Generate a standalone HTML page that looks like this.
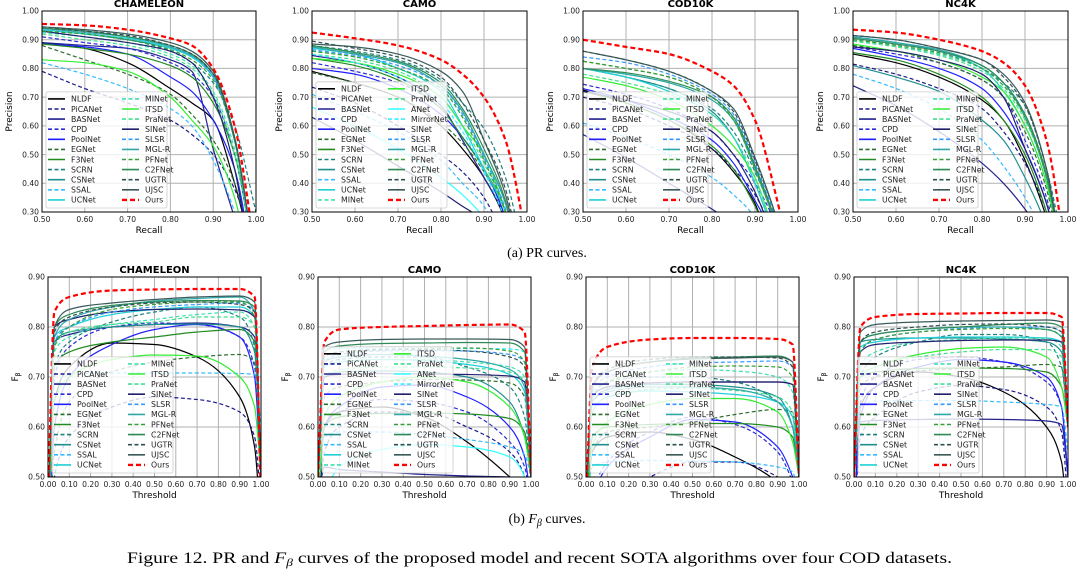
<!DOCTYPE html>
<html><head><meta charset="utf-8"><style>
html,body{margin:0;padding:0;background:#fff;}
svg{display:block;font-family:"DejaVu Sans","Liberation Sans",sans-serif;}
</style></head><body>
<svg id="fig" width="1081" height="573" viewBox="0 0 1081 573" xmlns="http://www.w3.org/2000/svg">
<rect width="1081" height="573" fill="#fff"/>
<g id="panels"></g>
<text x="547" y="257" text-anchor="middle" font-family="Liberation Serif, serif" font-size="14">(a) PR curves.</text>
<text x="547" y="523" text-anchor="middle" font-family="Liberation Serif, serif" font-size="14">(b) <tspan font-style="italic">F</tspan><tspan font-style="italic" font-size="10" dy="3">β</tspan><tspan dy="-3"> curves.</tspan></text>
<text x="127" y="563" font-family="Liberation Serif, serif" font-size="16" textLength="825" lengthAdjust="spacingAndGlyphs">Figure 12. PR and <tspan font-style="italic">F</tspan><tspan font-style="italic" font-size="11" dy="3">β</tspan><tspan dy="-3"> curves of the proposed model and recent SOTA algorithms over four COD datasets.</tspan></text>
</svg>
<script>
// ---- data ----
const recallGrid = [0.5,0.6,0.7,0.8,0.85,0.9,0.95,1.0];
const thrGrid = [0,0.03,0.1,0.3,0.5,0.7,0.9,0.97,1.0];
const prTicksX = ["0.50","0.60","0.70","0.80","0.90","1.00"];
const prTicksY = ["0.30","0.40","0.50","0.60","0.70","0.80","0.90","1.00"];
const fTicksX = ["0.00","0.10","0.20","0.30","0.40","0.50","0.60","0.70","0.80","0.90","1.00"];
const fTicksY = ["0.50","0.60","0.70","0.80","0.90"];
const datasets = ["CHAMELEON","CAMO","COD10K","NC4K"];
const methodsStd = ["NLDF","PiCANet","BASNet","CPD","PoolNet","EGNet","F3Net","SCRN","CSNet","SSAL","UCNet","MINet","ITSD","PraNet","SINet","SLSR","MGL-R","PFNet","C2FNet","UGTR","UJSC","Ours"];
const methodsCamo = ["NLDF","PiCANet","BASNet","CPD","PoolNet","EGNet","F3Net","SCRN","CSNet","SSAL","UCNet","MINet","ITSD","PraNet","ANet","MirrorNet","SINet","SLSR","MGL-R","PFNet","C2FNet","UGTR","UJSC","Ours"];

const prChameleon = {
NLDF:[0.89,0.87,0.82,0.73,0.68,0.62,0.40,0.10],PiCANet:[0.79,0.73,0.68,0.62,0.57,0.50,0.38,0.15],
BASNet:[0.89,0.88,0.87,0.83,0.79,0.52,0.28,0.05],CPD:[0.91,0.89,0.87,0.82,0.78,0.70,0.50,0.10],
PoolNet:[0.885,0.875,0.85,0.77,0.72,0.62,0.45,0.05],EGNet:[0.88,0.83,0.78,0.71,0.64,0.55,0.40,0.10],
F3Net:[0.885,0.87,0.85,0.81,0.77,0.68,0.50,0.15],SCRN:[0.93,0.92,0.90,0.86,0.82,0.75,0.60,0.30],
CSNet:[0.935,0.92,0.90,0.87,0.84,0.77,0.55,0.10],SSAL:[0.82,0.78,0.73,0.66,0.60,0.48,0.30,0.0],
UCNet:[0.935,0.92,0.905,0.87,0.84,0.77,0.55,0.10],MINet:[0.925,0.91,0.89,0.85,0.81,0.72,0.52,0.10],
ITSD:[0.83,0.82,0.79,0.70,0.62,0.53,0.35,0.0],PraNet:[0.92,0.90,0.88,0.84,0.80,0.71,0.50,0.10],
SINet:[0.93,0.91,0.89,0.86,0.82,0.70,0.45,0.0],SLSR:[0.94,0.93,0.91,0.875,0.845,0.77,0.55,0.10],
"MGL-R":[0.94,0.925,0.91,0.875,0.845,0.78,0.56,0.10],PFNet:[0.93,0.92,0.90,0.865,0.83,0.76,0.55,0.10],
C2FNet:[0.94,0.93,0.91,0.88,0.85,0.78,0.55,0.10],UGTR:[0.945,0.93,0.915,0.88,0.85,0.78,0.56,0.10],
UJSC:[0.945,0.935,0.92,0.89,0.86,0.79,0.56,0.10],Ours:[0.955,0.95,0.935,0.905,0.88,0.80,0.60,0.15]};
const prCamo = {
NLDF:[0.79,0.75,0.70,0.60,0.52,0.42,0.27,0.0],PiCANet:[0.735,0.68,0.60,0.50,0.44,0.35,0.20,0.0],
BASNet:[0.845,0.82,0.77,0.67,0.55,0.42,0.28,0.0],CPD:[0.82,0.79,0.75,0.66,0.56,0.45,0.28,0.0],
PoolNet:[0.80,0.78,0.73,0.64,0.56,0.45,0.28,0.0],EGNet:[0.785,0.75,0.70,0.61,0.54,0.44,0.30,0.0],
F3Net:[0.835,0.81,0.76,0.66,0.56,0.45,0.30,0.0],SCRN:[0.88,0.86,0.83,0.76,0.68,0.59,0.42,0.10],
CSNet:[0.875,0.85,0.82,0.74,0.65,0.50,0.33,0.0],SSAL:[0.71,0.65,0.58,0.48,0.40,0.32,0.15,0.0],
UCNet:[0.87,0.85,0.80,0.72,0.60,0.45,0.30,0.0],MINet:[0.86,0.84,0.80,0.73,0.63,0.48,0.30,0.0],
ITSD:[0.835,0.82,0.78,0.70,0.60,0.50,0.30,0.0],PraNet:[0.85,0.83,0.79,0.70,0.60,0.47,0.30,0.0],
ANet:[0.665,0.60,0.52,0.42,0.36,0.28,0.15,0.0],MirrorNet:[0.85,0.82,0.77,0.68,0.58,0.44,0.27,0.0],
SINet:[0.63,0.55,0.46,0.37,0.32,0.27,0.15,0.0],SLSR:[0.865,0.845,0.81,0.74,0.64,0.49,0.31,0.0],
"MGL-R":[0.875,0.85,0.82,0.74,0.65,0.50,0.33,0.0],PFNet:[0.86,0.84,0.80,0.73,0.63,0.48,0.30,0.0],
C2FNet:[0.88,0.855,0.825,0.75,0.66,0.52,0.34,0.0],UGTR:[0.895,0.87,0.84,0.77,0.68,0.55,0.38,0.0],
UJSC:[0.885,0.875,0.85,0.79,0.72,0.55,0.36,0.0],Ours:[0.925,0.905,0.88,0.83,0.78,0.70,0.55,0.20]};
const prCod = {
NLDF:[0.725,0.68,0.62,0.52,0.44,0.33,0.10,0.0],PiCANet:[0.70,0.66,0.60,0.52,0.45,0.36,0.20,0.0],
BASNet:[0.57,0.49,0.40,0.31,0.26,0.20,0.10,0.0],CPD:[0.745,0.71,0.66,0.58,0.50,0.40,0.25,0.0],
PoolNet:[0.73,0.69,0.63,0.55,0.47,0.34,0.20,0.0],EGNet:[0.825,0.80,0.77,0.70,0.62,0.45,0.25,0.0],
F3Net:[0.72,0.68,0.62,0.53,0.45,0.32,0.15,0.0],SCRN:[0.80,0.77,0.73,0.66,0.58,0.44,0.25,0.0],
CSNet:[0.80,0.77,0.73,0.65,0.56,0.40,0.20,0.0],SSAL:[0.61,0.56,0.50,0.42,0.36,0.28,0.10,0.0],
UCNet:[0.80,0.77,0.72,0.64,0.56,0.40,0.20,0.0],MINet:[0.80,0.78,0.75,0.69,0.62,0.45,0.25,0.0],
ITSD:[0.77,0.74,0.69,0.60,0.53,0.42,0.20,0.0],PraNet:[0.78,0.75,0.71,0.64,0.56,0.42,0.20,0.0],
SINet:[0.72,0.69,0.65,0.58,0.50,0.37,0.18,0.0],SLSR:[0.84,0.82,0.78,0.71,0.64,0.47,0.27,0.0],
"MGL-R":[0.80,0.78,0.75,0.69,0.62,0.45,0.25,0.0],PFNet:[0.825,0.80,0.77,0.70,0.62,0.45,0.25,0.0],
C2FNet:[0.80,0.785,0.755,0.70,0.63,0.46,0.26,0.0],UGTR:[0.86,0.83,0.79,0.72,0.65,0.48,0.28,0.0],
UJSC:[0.86,0.83,0.79,0.72,0.66,0.49,0.28,0.0],Ours:[0.90,0.875,0.85,0.79,0.74,0.62,0.35,0.0]};
const prNc4k = {
NLDF:[0.85,0.82,0.77,0.69,0.62,0.48,0.28,0.0],PiCANet:[0.815,0.78,0.73,0.66,0.58,0.47,0.30,0.0],
BASNet:[0.74,0.67,0.58,0.47,0.40,0.31,0.20,0.0],CPD:[0.875,0.85,0.82,0.76,0.70,0.55,0.35,0.0],
PoolNet:[0.87,0.84,0.80,0.73,0.65,0.52,0.33,0.0],EGNet:[0.88,0.86,0.82,0.76,0.70,0.58,0.38,0.0],
F3Net:[0.855,0.83,0.78,0.70,0.62,0.50,0.30,0.0],SCRN:[0.90,0.88,0.85,0.80,0.75,0.67,0.45,0.10],
CSNet:[0.81,0.77,0.72,0.62,0.55,0.42,0.25,0.0],SSAL:[0.78,0.73,0.66,0.55,0.46,0.35,0.20,0.0],
UCNet:[0.91,0.89,0.86,0.80,0.72,0.60,0.40,0.0],MINet:[0.90,0.88,0.85,0.80,0.74,0.63,0.42,0.0],
ITSD:[0.885,0.86,0.83,0.77,0.72,0.60,0.40,0.0],PraNet:[0.895,0.875,0.845,0.79,0.73,0.62,0.42,0.0],
SINet:[0.875,0.86,0.83,0.78,0.70,0.52,0.33,0.0],SLSR:[0.91,0.89,0.86,0.81,0.75,0.64,0.43,0.0],
"MGL-R":[0.91,0.89,0.865,0.81,0.75,0.63,0.42,0.0],PFNet:[0.90,0.88,0.855,0.80,0.74,0.63,0.42,0.0],
C2FNet:[0.905,0.885,0.86,0.81,0.75,0.64,0.43,0.0],UGTR:[0.915,0.90,0.87,0.83,0.77,0.67,0.45,0.0],
UJSC:[0.915,0.90,0.87,0.83,0.78,0.68,0.45,0.0],Ours:[0.935,0.925,0.90,0.86,0.82,0.74,0.55,0.10]};

const fChameleon = {
NLDF:[0.40,0.65,0.72,0.768,0.765,0.74,0.66,0.56,0.40],PiCANet:[0.30,0.50,0.58,0.64,0.66,0.655,0.63,0.58,0.45],
BASNet:[0.40,0.77,0.785,0.80,0.805,0.808,0.80,0.78,0.50],CPD:[0.35,0.70,0.76,0.80,0.808,0.805,0.78,0.72,0.50],
PoolNet:[0.30,0.60,0.70,0.765,0.795,0.805,0.78,0.70,0.50],EGNet:[0.30,0.55,0.65,0.71,0.73,0.74,0.745,0.73,0.50],
F3Net:[0.40,0.72,0.75,0.77,0.78,0.79,0.795,0.77,0.50],SCRN:[0.40,0.72,0.77,0.81,0.83,0.84,0.82,0.76,0.50],
CSNet:[0.40,0.77,0.79,0.80,0.805,0.806,0.80,0.75,0.50],SSAL:[0.40,0.68,0.705,0.708,0.708,0.708,0.707,0.705,0.60],
UCNet:[0.40,0.78,0.80,0.825,0.835,0.84,0.84,0.82,0.50],MINet:[0.40,0.75,0.78,0.805,0.815,0.825,0.83,0.80,0.50],
ITSD:[0.40,0.65,0.70,0.735,0.744,0.742,0.70,0.64,0.50],PraNet:[0.40,0.76,0.79,0.805,0.81,0.82,0.82,0.80,0.50],
SINet:[0.40,0.80,0.815,0.83,0.835,0.836,0.834,0.82,0.50],SLSR:[0.40,0.77,0.80,0.83,0.84,0.845,0.848,0.83,0.50],
"MGL-R":[0.40,0.78,0.815,0.84,0.852,0.857,0.86,0.83,0.50],PFNet:[0.40,0.76,0.80,0.835,0.845,0.85,0.85,0.82,0.50],
C2FNet:[0.40,0.80,0.825,0.843,0.85,0.853,0.852,0.84,0.50],UGTR:[0.40,0.79,0.82,0.84,0.848,0.85,0.845,0.83,0.50],
UJSC:[0.40,0.80,0.835,0.848,0.855,0.86,0.862,0.85,0.50],Ours:[0.45,0.83,0.86,0.873,0.875,0.876,0.876,0.86,0.45]};
const fCamo = {
NLDF:[0.40,0.60,0.63,0.64,0.62,0.57,0.50,0.47,0.40],PiCANet:[0.40,0.55,0.60,0.63,0.63,0.60,0.55,0.50,0.40],
BASNet:[0.45,0.52,0.515,0.51,0.505,0.502,0.50,0.49,0.45],CPD:[0.45,0.60,0.63,0.655,0.65,0.63,0.57,0.52,0.45],
PoolNet:[0.45,0.60,0.64,0.68,0.684,0.66,0.60,0.54,0.45],EGNet:[0.50,0.66,0.68,0.69,0.695,0.694,0.688,0.66,0.50],
F3Net:[0.45,0.60,0.62,0.627,0.628,0.626,0.617,0.59,0.50],SCRN:[0.50,0.72,0.735,0.74,0.74,0.72,0.68,0.62,0.50],
CSNet:[0.50,0.70,0.71,0.712,0.71,0.70,0.65,0.58,0.50],SSAL:[0.45,0.58,0.59,0.59,0.585,0.575,0.56,0.545,0.50],
UCNet:[0.50,0.72,0.73,0.735,0.733,0.725,0.705,0.67,0.50],MINet:[0.50,0.72,0.73,0.735,0.735,0.73,0.72,0.70,0.50],
ITSD:[0.45,0.62,0.66,0.69,0.70,0.69,0.64,0.58,0.50],PraNet:[0.50,0.70,0.715,0.72,0.72,0.718,0.71,0.69,0.50],
ANet:[0.30,0.45,0.52,0.555,0.565,0.56,0.54,0.50,0.40],MirrorNet:[0.50,0.755,0.757,0.757,0.757,0.757,0.756,0.75,0.50],
SINet:[0.50,0.70,0.705,0.707,0.706,0.705,0.702,0.69,0.50],SLSR:[0.50,0.73,0.745,0.752,0.753,0.752,0.745,0.73,0.50],
"MGL-R":[0.50,0.73,0.74,0.745,0.742,0.735,0.715,0.68,0.50],PFNet:[0.50,0.74,0.75,0.754,0.757,0.758,0.752,0.73,0.50],
C2FNet:[0.50,0.75,0.762,0.767,0.768,0.769,0.768,0.75,0.50],UGTR:[0.50,0.74,0.75,0.755,0.755,0.752,0.74,0.72,0.50],
UJSC:[0.50,0.76,0.77,0.775,0.776,0.776,0.775,0.76,0.50],Ours:[0.50,0.77,0.795,0.80,0.802,0.804,0.805,0.79,0.50]};
const fCod = {
NLDF:[0.40,0.55,0.58,0.59,0.575,0.54,0.49,0.46,0.40],PiCANet:[0.30,0.40,0.44,0.50,0.53,0.53,0.50,0.47,0.40],
BASNet:[0.45,0.66,0.68,0.688,0.69,0.69,0.69,0.685,0.50],CPD:[0.30,0.46,0.53,0.59,0.62,0.605,0.55,0.49,0.45],
PoolNet:[0.30,0.45,0.52,0.58,0.615,0.61,0.56,0.50,0.45],EGNet:[0.40,0.55,0.59,0.60,0.61,0.625,0.635,0.63,0.50],
F3Net:[0.40,0.58,0.60,0.605,0.607,0.607,0.60,0.58,0.50],SCRN:[0.45,0.66,0.69,0.70,0.70,0.69,0.65,0.60,0.50],
CSNet:[0.45,0.65,0.675,0.685,0.685,0.68,0.66,0.60,0.50],SSAL:[0.45,0.52,0.53,0.533,0.532,0.53,0.52,0.51,0.45],
UCNet:[0.45,0.63,0.66,0.672,0.67,0.665,0.65,0.62,0.50],MINet:[0.45,0.66,0.69,0.71,0.715,0.712,0.70,0.67,0.50],
ITSD:[0.40,0.56,0.61,0.645,0.657,0.657,0.63,0.57,0.50],PraNet:[0.45,0.63,0.66,0.675,0.678,0.673,0.66,0.63,0.50],
SINet:[0.45,0.66,0.68,0.688,0.69,0.69,0.69,0.685,0.50],SLSR:[0.45,0.67,0.70,0.72,0.728,0.73,0.732,0.72,0.50],
"MGL-R":[0.45,0.65,0.67,0.68,0.68,0.675,0.65,0.60,0.50],PFNet:[0.45,0.66,0.69,0.71,0.72,0.722,0.72,0.70,0.50],
C2FNet:[0.45,0.68,0.71,0.73,0.738,0.74,0.742,0.73,0.50],UGTR:[0.45,0.68,0.715,0.735,0.74,0.74,0.738,0.72,0.50],
UJSC:[0.45,0.68,0.71,0.73,0.736,0.738,0.74,0.73,0.50],Ours:[0.45,0.72,0.76,0.775,0.778,0.778,0.776,0.765,0.50]};
const fNc4k = {
NLDF:[0.40,0.64,0.68,0.71,0.70,0.67,0.60,0.53,0.40],PiCANet:[0.40,0.58,0.62,0.67,0.683,0.675,0.64,0.59,0.45],
BASNet:[0.50,0.61,0.613,0.615,0.616,0.615,0.612,0.605,0.50],CPD:[0.40,0.65,0.70,0.735,0.74,0.73,0.69,0.64,0.50],
PoolNet:[0.40,0.62,0.68,0.72,0.735,0.73,0.70,0.64,0.50],EGNet:[0.50,0.68,0.70,0.712,0.717,0.72,0.725,0.72,0.60],
F3Net:[0.50,0.70,0.71,0.717,0.718,0.717,0.71,0.68,0.60],SCRN:[0.50,0.70,0.74,0.77,0.785,0.785,0.77,0.72,0.60],
CSNet:[0.50,0.77,0.775,0.778,0.778,0.776,0.77,0.75,0.60],SSAL:[0.50,0.64,0.652,0.653,0.653,0.65,0.645,0.64,0.55],
UCNet:[0.50,0.76,0.77,0.778,0.78,0.78,0.778,0.77,0.60],MINet:[0.50,0.72,0.75,0.77,0.775,0.778,0.777,0.76,0.60],
ITSD:[0.50,0.70,0.72,0.745,0.757,0.76,0.74,0.68,0.60],PraNet:[0.50,0.70,0.72,0.74,0.75,0.755,0.755,0.74,0.60],
SINet:[0.50,0.75,0.765,0.77,0.773,0.774,0.774,0.77,0.60],SLSR:[0.50,0.75,0.775,0.79,0.797,0.80,0.80,0.79,0.60],
"MGL-R":[0.50,0.77,0.785,0.795,0.80,0.80,0.795,0.78,0.60],PFNet:[0.50,0.75,0.775,0.79,0.795,0.797,0.795,0.78,0.60],
C2FNet:[0.50,0.77,0.785,0.795,0.80,0.805,0.808,0.80,0.60],UGTR:[0.50,0.77,0.79,0.80,0.805,0.806,0.80,0.79,0.60],
UJSC:[0.50,0.79,0.805,0.81,0.812,0.813,0.814,0.81,0.60],Ours:[0.50,0.80,0.82,0.826,0.827,0.828,0.828,0.82,0.60]};

// ---- styles ----
const styles = {
NLDF:["#000000",0],PiCANet:["#1a1a8c",1],BASNet:["#23238f",0],CPD:["#2b2bd6",1],PoolNet:["#1f1fff",0],
EGNet:["#2d6e2d",1],F3Net:["#228b22",0],SCRN:["#1c8080",1],CSNet:["#1f8f8f",0],SSAL:["#33bbff",1],
UCNet:["#20d0d8",0],MINet:["#3ee0b0",1],ITSD:["#33ee33",0],PraNet:["#40e090",1],ANet:["#33ffff",0],
MirrorNet:["#33eeff",1],SINet:["#20206e",0],SLSR:["#3399ff",1],"MGL-R":["#30a8a8",0],PFNet:["#33a033",1],
C2FNet:["#2e8b57",0],UGTR:["#2f4f4f",1],UJSC:["#3a5a5a",0],Ours:["#ff0000",2]};

const NS="http://www.w3.org/2000/svg";
const root=document.getElementById('panels');
function mk(tag,attrs,parent){const e=document.createElementNS(NS,tag);for(const k in attrs)e.setAttribute(k,attrs[k]);(parent||root).appendChild(e);return e;}
// monotone cubic (Fritsch-Carlson) path, no overshoot
function pathD(pts){
  const n=pts.length, dx=[], s=[], m=[];
  for(let i=0;i<n-1;i++){dx[i]=pts[i+1][0]-pts[i][0];s[i]=(pts[i+1][1]-pts[i][1])/dx[i];}
  m[0]=s[0];m[n-1]=s[n-2];
  for(let i=1;i<n-1;i++){ if(s[i-1]*s[i]<=0) m[i]=0; else { const w1=2*dx[i]+dx[i-1], w2=dx[i]+2*dx[i-1]; m[i]=(w1+w2)/(w1/s[i-1]+w2/s[i]); } }
  let d="M"+pts[0][0].toFixed(2)+","+pts[0][1].toFixed(2);
  for(let i=0;i<n-1;i++){
    const h=dx[i]/3;
    d+="C"+(pts[i][0]+h).toFixed(2)+","+(pts[i][1]+m[i]*h).toFixed(2)+" "+(pts[i+1][0]-h).toFixed(2)+","+(pts[i+1][1]-m[i+1]*h).toFixed(2)+" "+pts[i+1][0].toFixed(2)+","+pts[i+1][1].toFixed(2);
  }
  return d;
}
function strokeFor(m){const s=styles[m];return {stroke:s[0],"stroke-width":s[1]==2?2.2:1.2,"stroke-dasharray":s[1]==1?"4,2.5":(s[1]==2?"5,3":"none"),fill:"none"};}

let clipN=0;
function panel(o){
  const g=mk('g',{});
  
  
  const X=v=>o.x0+(v-o.xmin)/(o.xmax-o.xmin)*(o.x1-o.x0);
  const Y=v=>o.y1-(v-o.ymin)/(o.ymax-o.ymin)*(o.y1-o.y0);
  o.xt.forEach(t=>{const v=parseFloat(t);const l=mk('line',{x1:X(v),x2:X(v),y1:o.y0,y2:o.y1,stroke:"#b0b0b0","stroke-width":1},g);
    
    const tx=mk('text',{x:X(v),y:o.y1+10,"text-anchor":"middle","font-size":7.6,fill:"#222"},g);tx.textContent=t;
    });
  o.yt.forEach(t=>{const v=parseFloat(t);const l=mk('line',{x1:o.x0,x2:o.x1,y1:Y(v),y2:Y(v),stroke:"#b0b0b0","stroke-width":1},g);
    
    const tx=mk('text',{x:o.x0-3,y:Y(v)+2.7,"text-anchor":"end","font-size":7.6,fill:"#222"},g);tx.textContent=t;
    });
  const cid="c"+(clipN++);
  const cp=mk('clipPath',{id:cid},g);mk('rect',{x:o.x0,y:o.y0,width:o.x1-o.x0,height:o.y1-o.y0},cp);
  const cg=mk('g',{"clip-path":"url(#"+cid+")"},g);
  o.methods.forEach(m=>{
    const vals=o.data[m];
    const pts=vals.map((v,i)=>[X(o.grid[i]),Y(v)]);
    const p=mk('path',Object.assign({d:pathD(pts)},strokeFor(m)),cg);
    
    
  });
  const fr=mk('rect',{x:o.x0,y:o.y0,width:o.x1-o.x0,height:o.y1-o.y0,fill:"none",stroke:"#000","stroke-width":1},g);
  
  const ti=mk('text',{x:(o.x0+o.x1)/2,y:o.y0-4,"text-anchor":"middle","font-size":10,"font-weight":"bold"},g);ti.textContent=o.title;
  
  const xl=mk('text',{x:(o.x0+o.x1)/2,y:o.y1+21,"text-anchor":"middle","font-size":9},g);xl.textContent=o.xlabel;
  
  const yl=mk('text',{x:0,y:0,"text-anchor":"middle","font-size":9,transform:"translate("+(o.x0-30)+","+((o.y0+o.y1)/2)+") rotate(-90)"},g);
  if(o.ylabel=="F"){yl.innerHTML='F<tspan font-size="6" dy="2">β</tspan>';}else yl.textContent=o.ylabel;
  
  const rows=Math.ceil(o.methods.length/2), rh=10.1;
  const lw=o.methods.length>22?131:121, lh=rows*rh+5;
  const lx=o.x0+4, ly=o.y1-4-lh;
  const lg=mk('g',{},g);
  
  mk('rect',{x:lx,y:ly,width:lw,height:lh,rx:2,fill:"#fff","fill-opacity":0.8,stroke:"#ccc","stroke-width":0.8},lg);
  o.methods.forEach((m,i)=>{
    const c=Math.floor(i/rows), r=i%rows;
    const bx=lx+2+c*(lw>125?70:74), by=ly+7+r*rh;
    const ln=mk('line',Object.assign({x1:bx,x2:bx+17,y1:by,y2:by},strokeFor(m)),lg);
    ln.setAttribute('stroke-width',m=="Ours"?2.4:1.6);
    
    const t=mk('text',{x:bx+23,y:by+2.8,"font-size":7.8,fill:"#222"},lg);t.textContent=m;
    
  });
}
const prData=[prChameleon,prCamo,prCod,prNc4k], fData=[fChameleon,fCamo,fCod,fNc4k];
const prX=[[42,256],[312,527],[583,798],[853,1068]], fX=[[48,261],[318,531],[586,799],[854,1068]];
datasets.forEach((d,i)=>{
  const ms=d=="CAMO"?methodsCamo:methodsStd;
  panel({name:'pr-panel-'+d.toLowerCase(),title:d,x0:prX[i][0],x1:prX[i][1],y0:11,y1:212,xmin:0.5,xmax:1,ymin:0.3,ymax:1,
    xt:prTicksX,yt:prTicksY,grid:recallGrid,data:prData[i],methods:ms,xlabel:"Recall",ylabel:"Precision"});
  panel({name:'fbeta-panel-'+d.toLowerCase(),title:d,x0:fX[i][0],x1:fX[i][1],y0:277,y1:477,xmin:0,xmax:1,ymin:0.5,ymax:0.9,
    xt:fTicksX,yt:fTicksY,grid:thrGrid,data:fData[i],methods:ms,xlabel:"Threshold",ylabel:"F"});
});
</script>
</body></html>
